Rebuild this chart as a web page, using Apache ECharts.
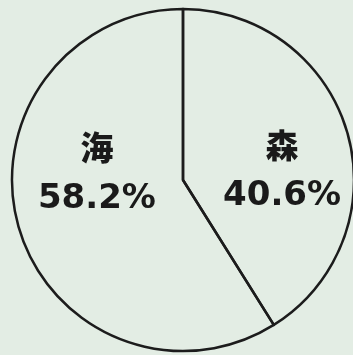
<!DOCTYPE html>
<html><head><meta charset="utf-8">
<script src="https://cdn.jsdelivr.net/npm/echarts@6/dist/echarts.min.js"></script>
<style>html,body{margin:0;padding:0;background:#e3ede4;}#c{width:353px;height:355px;}</style>
</head><body><div id="c"></div>
<script>
var categories = ['森', '海'];
var values = [40.6, 58.2];
var labelOffsets = [[14, 15], [-1, -31]];

var chart = echarts.init(document.getElementById('c'), null, {renderer: 'canvas'});
chart.setOption({
  backgroundColor: '#e3ede4',
  animation: false,
  series: [{
    type: 'pie',
    center: [183, 180],
    radius: 171,
    startAngle: 90,
    clockwise: true,
    silent: true,
    itemStyle: {color: 'rgba(0,0,0,0)', borderColor: '#1c1c1c', borderWidth: 2.5},
    label: {
      show: true,
      position: 'inside',
      formatter: function (p) { return '{n|' + p.name + '}\n{v|' + p.value.toFixed(1) + '%}'; },
      rich: {
        n: {fontFamily: 'Noto Sans CJK JP', fontWeight: 900, fontSize: 33, color: '#1a1a1a', lineHeight: 51},
        v: {fontFamily: 'DejaVu Sans', fontWeight: 'bold', fontSize: 34, color: '#1a1a1a', lineHeight: 51}
      }
    },
    labelLine: {show: false},
    data: categories.map(function (c, i) {
      return {name: c, value: values[i], label: {offset: labelOffsets[i]}};
    })
  }]
});
</script></body></html>
